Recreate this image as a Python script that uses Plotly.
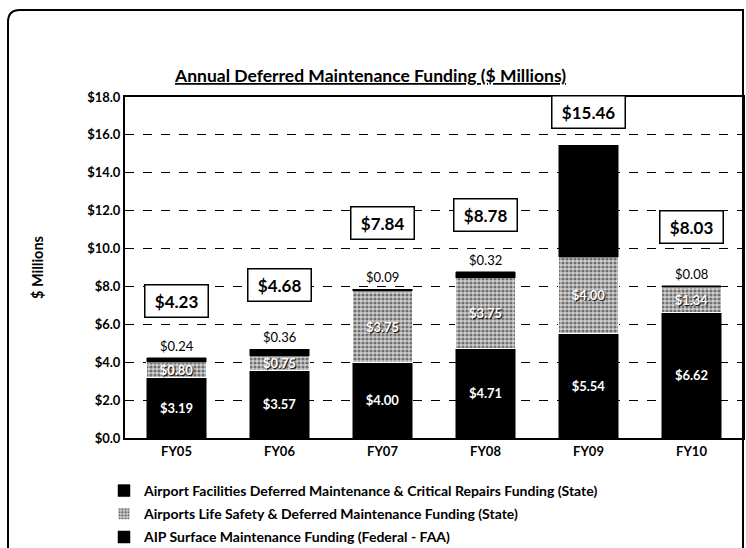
import plotly.graph_objects as go

years = ["FY05", "FY06", "FY07", "FY08", "FY09", "FY10"]
facilities_state = [3.19, 3.57, 4.00, 4.71, 5.54, 6.62]
life_safety_state = [0.80, 0.75, 3.75, 3.75, 4.00, 1.34]
aip_federal = [0.24, 0.36, 0.09, 0.32, 5.92, 0.08]
totals = [4.23, 4.68, 7.84, 8.78, 15.46, 8.03]
aip_labels = ["$0.24", "$0.36", "$0.09", "$0.32", "", "$0.08"]
tick_vals = [0, 2, 4, 6, 8, 10, 12, 14, 16, 18]
tick_text = ["$0.0", "$2.0", "$4.0", "$6.0", "$8.0", "$10.0", "$12.0", "$14.0", "$16.0", "$18.0"]

names = [
    "Airport Facilities Deferred Maintenance & Critical Repairs Funding (State)",
    "Airports Life Safety & Deferred Maintenance Funding (State)",
    "AIP Surface Maintenance Funding (Federal - FAA)",
]

FONT = "Lato"
box_offset = [3.0, 3.4, 3.5, 3.0, 1.75, 3.1]

fig = go.Figure()
fig.add_trace(go.Bar(
    x=years, y=facilities_state, name=names[0], legendgroup="a",
    marker=dict(color="black", line=dict(color="black", width=0.5)),
    text=[f"${v:.2f}" for v in facilities_state], textposition="inside",
    insidetextanchor="middle",
    textfont=dict(color="white", size=13, family=FONT, weight="bold"),
))
fig.add_trace(go.Bar(
    x=years, y=life_safety_state, name=names[1], legendgroup="b",
    marker=dict(color="#8a8a8a", line=dict(color="white", width=1),
                pattern=dict(shape=".", fgcolor="#111111", bgcolor="#cfcfcf",
                             size=4, solidity=0.5)),
    text=[f"${v:.2f}" for v in life_safety_state], textposition="inside",
    insidetextanchor="middle",
    textfont=dict(color="white", size=13, family=FONT, weight="bold",
                  shadow="1px 1px 1px black"),
))
fig.add_trace(go.Bar(
    x=years, y=aip_federal, name=names[2], legendgroup="c",
    marker=dict(color="black", line=dict(color="black", width=0.5)),
    textposition="none",
))

for yr, tot, lab, off in zip(years, totals, aip_labels, box_offset):
    if lab:
        fig.add_annotation(x=yr, y=tot, text=lab, showarrow=False, yanchor="bottom",
                           yshift=2, font=dict(family=FONT, size=13, color="black"))
    fig.add_annotation(x=yr, y=tot + off, text=f"&nbsp;<b>${tot:.2f}</b>&nbsp;",
                       showarrow=False,
                       bgcolor="white", bordercolor="black", borderwidth=1.5, borderpad=5,
                       font=dict(family=FONT, size=17, color="black"))

W, H = 746, 548
ml, mr, mt, mb = 125, 3, 97, 110
pw, ph = W - ml - mr, H - mt - mb
def px(x):
    return (x - ml) / pw
def py(y):
    return (H - mb - y) / ph

fig.add_annotation(xref="paper", yref="paper", x=px(370), y=py(75),
                   xanchor="center", yanchor="middle",
                   text="<b><u>Annual Deferred Maintenance Funding ($ Millions)</u></b>",
                   showarrow=False, font=dict(family=FONT, size=17.5, color="black"))

# outer rounded frame
x0, x1, yt, yb, r = 8, 743, 10, 560, 12
path = (f"M {px(x0)},{py(yb)} L {px(x0)},{py(yt + r)} "
        f"Q {px(x0)},{py(yt)} {px(x0 + r)},{py(yt)} L {px(x1)},{py(yt)} L {px(x1)},{py(yb)}")
fig.add_shape(type="path", xref="paper", yref="paper", path=path,
              line=dict(color="black", width=2))

fig.update_layout(
    width=W, height=H,
    margin=dict(l=ml, r=mr, t=mt, b=mb, autoexpand=False),
    barmode="stack", bargap=0.42,
    plot_bgcolor="white", paper_bgcolor="white",
    font=dict(family=FONT, color="black"),
    showlegend=True,
    legend=dict(orientation="v", traceorder="grouped", x=px(104), xanchor="left",
                y=py(475), yanchor="top",
                font=dict(family=FONT, size=14, color="black", weight="bold"),
                tracegroupgap=2, itemwidth=30, bgcolor="rgba(0,0,0,0)"),
    uniformtext=dict(mode="show", minsize=8),
)
fig.update_yaxes(range=[0, 18], tickvals=tick_vals, ticktext=tick_text,
                 showgrid=True, gridcolor="black", gridwidth=1, griddash="dash",
                 showline=True, linecolor="black", linewidth=2, mirror=True,
                 ticks="", tickfont=dict(family=FONT, size=13, weight="bold"),
                 title=dict(text="<b>$ Millions</b>", font=dict(family=FONT, size=14.5),
                            standoff=40),
                 zeroline=False, automargin=False)
fig.update_xaxes(showline=True, linecolor="black", linewidth=2, mirror=True,
                 ticks="", tickfont=dict(family=FONT, size=13, weight="bold"),
                 automargin=False)

fig.write_html("out.html", config={"displayModeBar": False},
               post_script="document.body.style.margin='0';document.body.style.overflow='hidden';")
